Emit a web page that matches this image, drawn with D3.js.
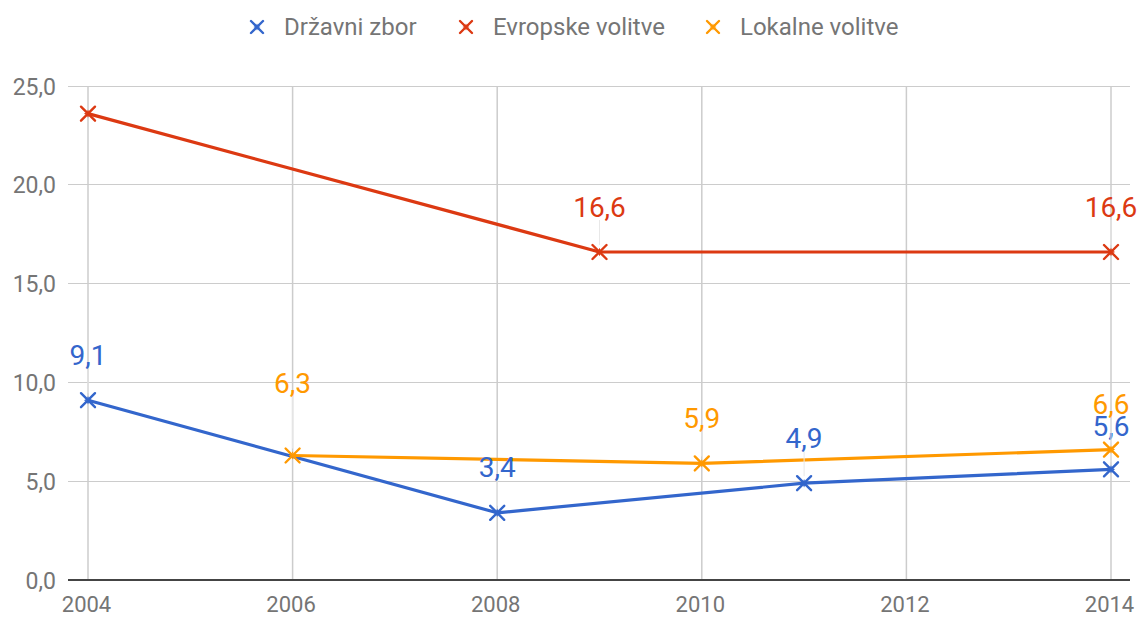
<!DOCTYPE html>
<html><head><meta charset="utf-8">
<script src="https://cdn.jsdelivr.net/npm/d3@7"></script>
<style>body{margin:0;background:#fff;}svg{display:block;font-family:Roboto,"Noto Sans",sans-serif;}</style>
</head><body>
<svg id="c" width="1139" height="618"></svg>
<script>
const seriesNames = ["Državni zbor", "Evropske volitve", "Lokalne volitve"];
const seriesColors = ["#3366cc", "#dc3912", "#ff9900"];
const drzavniYears = [2004, 2008, 2011, 2014];
const drzavniValues = [9.1, 3.4, 4.9, 5.6];
const drzavniLabeled = [true, true, true, true];
const evropskeYears = [2004, 2009, 2014];
const evropskeValues = [23.6, 16.6, 16.6];
const evropskeLabeled = [false, true, true];
const lokalneYears = [2006, 2010, 2014];
const lokalneValues = [6.3, 5.9, 6.6];
const lokalneLabeled = [true, true, true];
const xTicks = [2004, 2006, 2008, 2010, 2012, 2014];
const yTicks = [0, 5, 10, 15, 20, 25];
// extra lift (px) of some labels to avoid collisions
const labelNudge = [[0, 1, 0, -2], [0, 0, 0], [28, 0, 1]];

const series = [
  {years: drzavniYears, values: drzavniValues, labeled: drzavniLabeled},
  {years: evropskeYears, values: evropskeValues, labeled: evropskeLabeled},
  {years: lokalneYears, values: lokalneValues, labeled: lokalneLabeled}
];

const svg = d3.select("#c");
const x = d3.scaleLinear().domain([2004, 2014]).range([88, 1111]);
const y = d3.scaleLinear().domain([0, 25]).range([580, 86]);
const fmt = v => d3.format(".1f")(v).replace(".", ",");

// grid
const g = svg.append("g");
g.selectAll(".hg").data(yTicks.filter(t => t > 0)).join("line")
  .attr("x1", 68).attr("x2", 1130).attr("y1", d => y(d)).attr("y2", d => y(d))
  .attr("stroke", "#cccccc").attr("stroke-width", 1).attr("shape-rendering", "crispEdges");
g.selectAll(".vg").data(xTicks).join("line")
  .attr("x1", d => x(d)).attr("x2", d => x(d)).attr("y1", 86).attr("y2", 580)
  .attr("stroke", "#cccccc").attr("stroke-width", 1.5);
g.append("line").attr("x1", 68).attr("x2", 1130).attr("y1", y(0)).attr("y2", y(0))
  .attr("stroke", "#444").attr("stroke-width", 1.8);

// axes labels
const yAxis = d3.axisLeft(y).tickValues(yTicks).tickFormat(fmt).tickSize(0).tickPadding(0);
const ya = svg.append("g").attr("transform", "translate(56,0)").call(yAxis);
ya.select(".domain").remove();
ya.selectAll("text").attr("fill", "#757575").attr("font-size", 23).attr("dy", "0.35em")
  .attr("font-family", "Roboto, sans-serif");
const xAxis = d3.axisBottom(x).tickValues(xTicks).tickFormat(d3.format("d")).tickSize(0).tickPadding(0);
const xa = svg.append("g").attr("transform", "translate(-2,596)").call(xAxis);
xa.select(".domain").remove();
xa.selectAll("text").attr("fill", "#757575").attr("font-size", 22).attr("dy", "0.71em")
  .attr("font-family", "Roboto, sans-serif");

function marker(sel, cx, cy, color, r) {
  const m = sel.append("g").attr("transform", `translate(${cx},${cy})`);
  m.append("path").attr("d", `M${-r},${-r}L${r},${r}M${-r},${r}L${r},${-r}`)
    .attr("stroke", color).attr("stroke-width", 2.4).attr("stroke-linecap", "round");
  const s = r * 0.6;
  m.append("path").attr("d", `M0,${-s}L${s*0.45},0L0,${s}L${-s*0.45},0Z M${-s},0L0,${s*0.45}L${s},0L0,${-s*0.45}Z`)
    .attr("fill", color);
  return m;
}

const line = d3.line().x(d => x(d[0])).y(d => y(d[1]));
series.forEach((s, i) => {
  const pts = s.years.map((yr, j) => [yr, s.values[j]]);
  svg.append("path").datum(pts).attr("d", line).attr("fill", "none")
    .attr("stroke", seriesColors[i]).attr("stroke-width", 3.2).attr("stroke-linejoin", "round");
});
series.forEach((s, i) => {
  s.years.forEach((yr, j) => {
    const cx = x(yr), cy = y(s.values[j]);
    if (s.labeled[j]) {
      const ly = cy - 35 - labelNudge[i][j];
      svg.append("line").attr("x1", cx).attr("x2", cx).attr("y1", ly + 3).attr("y2", cy - 7)
        .attr("stroke", "#e8e8e8").attr("stroke-width", 1);
      svg.append("text").attr("x", cx).attr("y", ly).attr("text-anchor", "middle")
        .attr("font-size", 28).attr("fill", seriesColors[i]).text(fmt(s.values[j]));
    }
  });
});
series.forEach((s, i) => {
  s.years.forEach((yr, j) => marker(svg, x(yr), y(s.values[j]), seriesColors[i], 7));
});

// legend
const legendX = [257, 466, 713];
seriesNames.forEach((n, i) => {
  marker(svg, legendX[i], 27, seriesColors[i], 6);
  svg.append("text").attr("x", legendX[i] + 27).attr("y", 27).attr("dy", "0.35em")
    .attr("font-size", 24).attr("fill", "#757575").text(n);
});
</script>
</body></html>
